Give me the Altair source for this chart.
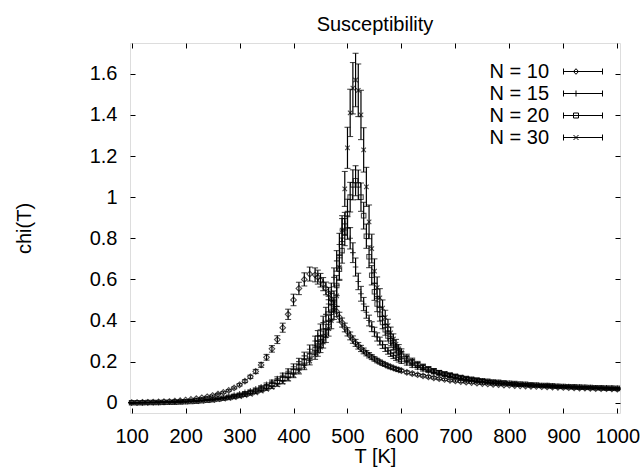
import altair as alt
import pandas as pd

# Temperatures (K)
T = [100, 110, 120, 130, 140, 150, 160, 170, 180, 190,
     200, 210, 220, 230, 240, 250, 260, 270, 280, 290,
     300, 310, 320, 330, 340, 350, 360, 370, 380, 390,
     400, 410, 420, 430, 440,
     445, 450, 455, 460, 465, 470, 475, 480, 485, 490,
     495, 500, 505, 510, 515, 520, 525, 530, 535, 540,
     545, 550, 555, 560, 565, 570, 575, 580, 585, 590,
     595, 600,
     610, 620, 630, 640, 650, 660, 670, 680, 690, 700,
     710, 720, 730, 740, 750, 760, 770, 780, 790, 800,
     810, 820, 830, 840, 850, 860, 870, 880, 890, 900,
     910, 920, 930, 940, 950, 960, 970, 980, 990, 1000]

series_names = ["N = 10", "N = 15", "N = 20", "N = 30"]

chi_n10 = [0.001, 0.001, 0.002, 0.002, 0.003, 0.004, 0.005, 0.006, 0.008, 0.010,
           0.013, 0.016, 0.020, 0.024, 0.029, 0.035, 0.042, 0.050, 0.060, 0.072,
           0.087, 0.105, 0.126, 0.152, 0.184, 0.221, 0.262, 0.307, 0.365, 0.430,
           0.500, 0.556, 0.600, 0.626, 0.622,
           0.611, 0.596, 0.577, 0.556, 0.531, 0.503, 0.473, 0.444, 0.416, 0.390,
           0.366, 0.345, 0.325, 0.307, 0.291, 0.277, 0.264, 0.252, 0.241, 0.231,
           0.222, 0.213, 0.205, 0.198, 0.191, 0.185, 0.179, 0.174, 0.169, 0.164,
           0.160, 0.156,
           0.148, 0.142, 0.136, 0.131, 0.126, 0.121, 0.117, 0.113, 0.109, 0.106,
           0.103, 0.100, 0.098, 0.095, 0.093, 0.091, 0.089, 0.088, 0.086, 0.085,
           0.083, 0.082, 0.081, 0.080, 0.079, 0.078, 0.077, 0.076, 0.075, 0.074,
           0.073, 0.072, 0.071, 0.071, 0.070, 0.069, 0.068, 0.068, 0.067, 0.066]

chi_n15 = [0.000, 0.000, 0.001, 0.001, 0.001, 0.002, 0.002, 0.003, 0.004, 0.005,
           0.006, 0.008, 0.010, 0.012, 0.015, 0.018, 0.022, 0.026, 0.031, 0.037,
           0.043, 0.050, 0.058, 0.067, 0.077, 0.089, 0.102, 0.117, 0.134, 0.153,
           0.175, 0.200, 0.228, 0.260, 0.300,
           0.325, 0.355, 0.390, 0.430, 0.480, 0.540, 0.610, 0.690, 0.770, 0.840,
           0.870, 0.850, 0.800, 0.730, 0.660, 0.590, 0.530, 0.480, 0.440, 0.400,
           0.370, 0.345, 0.320, 0.300, 0.282, 0.266, 0.252, 0.240, 0.229, 0.219,
           0.210, 0.202,
           0.193, 0.182, 0.172, 0.163, 0.155, 0.148, 0.141, 0.135, 0.130, 0.125,
           0.120, 0.116, 0.112, 0.109, 0.106, 0.103, 0.100, 0.098, 0.096, 0.094,
           0.092, 0.090, 0.088, 0.087, 0.085, 0.084, 0.083, 0.081, 0.080, 0.079,
           0.078, 0.077, 0.076, 0.075, 0.074, 0.073, 0.072, 0.072, 0.071, 0.070]

chi_n20 = [0.000, 0.000, 0.000, 0.001, 0.001, 0.001, 0.002, 0.002, 0.003, 0.004,
           0.005, 0.006, 0.008, 0.010, 0.012, 0.015, 0.018, 0.022, 0.026, 0.031,
           0.036, 0.042, 0.049, 0.057, 0.066, 0.076, 0.088, 0.101, 0.116, 0.133,
           0.152, 0.174, 0.198, 0.226, 0.258,
           0.276, 0.296, 0.320, 0.350, 0.390, 0.440, 0.500, 0.570, 0.650, 0.740,
           0.830, 0.920, 1.000, 1.060, 1.080, 1.060, 1.000, 0.910, 0.810, 0.710,
           0.620, 0.540, 0.480, 0.430, 0.390, 0.355, 0.325, 0.300, 0.280, 0.262,
           0.246, 0.232,
           0.212, 0.196, 0.183, 0.172, 0.162, 0.154, 0.146, 0.140, 0.134, 0.128,
           0.123, 0.118, 0.114, 0.110, 0.107, 0.104, 0.101, 0.099, 0.097, 0.095,
           0.093, 0.091, 0.089, 0.087, 0.086, 0.084, 0.083, 0.082, 0.080, 0.079,
           0.078, 0.077, 0.076, 0.075, 0.074, 0.073, 0.072, 0.071, 0.071, 0.070]

chi_n30 = [0.000, 0.000, 0.000, 0.000, 0.001, 0.001, 0.001, 0.002, 0.002, 0.003,
           0.004, 0.005, 0.006, 0.008, 0.010, 0.012, 0.015, 0.018, 0.021, 0.025,
           0.030, 0.035, 0.041, 0.048, 0.056, 0.065, 0.075, 0.087, 0.100, 0.116,
           0.134, 0.154, 0.177, 0.203, 0.233,
           0.250, 0.270, 0.295, 0.325, 0.360, 0.400, 0.450, 0.520, 0.660, 0.840,
           1.040, 1.240, 1.410, 1.530, 1.570, 1.520, 1.400, 1.230, 1.050, 0.880,
           0.750, 0.640, 0.560, 0.510, 0.460, 0.415, 0.375, 0.340, 0.310, 0.285,
           0.262, 0.243,
           0.220, 0.203, 0.188, 0.176, 0.165, 0.156, 0.148, 0.141, 0.135, 0.129,
           0.124, 0.119, 0.115, 0.111, 0.107, 0.104, 0.101, 0.099, 0.096, 0.094,
           0.092, 0.090, 0.089, 0.087, 0.086, 0.084, 0.083, 0.081, 0.080, 0.079,
           0.078, 0.077, 0.076, 0.075, 0.074, 0.073, 0.072, 0.071, 0.070, 0.070]

err_n10 = [0.000, 0.000, 0.000, 0.000, 0.000, 0.001, 0.001, 0.001, 0.001, 0.001,
           0.001, 0.001, 0.002, 0.002, 0.002, 0.003, 0.003, 0.004, 0.004, 0.005,
           0.006, 0.007, 0.008, 0.010, 0.012, 0.014, 0.016, 0.019, 0.022, 0.025,
           0.028, 0.030, 0.032, 0.034, 0.034,
           0.034, 0.033, 0.032, 0.031, 0.030, 0.028, 0.027, 0.025, 0.024, 0.022,
           0.021, 0.020, 0.019, 0.018, 0.017, 0.016, 0.015, 0.014, 0.013, 0.013,
           0.012, 0.011, 0.011, 0.010, 0.010, 0.009, 0.009, 0.009, 0.008, 0.008,
           0.008, 0.007,
           0.007, 0.007, 0.006, 0.006, 0.006, 0.006, 0.005, 0.005, 0.005, 0.005,
           0.005, 0.004, 0.004, 0.004, 0.004, 0.004, 0.004, 0.004, 0.004, 0.003,
           0.003, 0.003, 0.003, 0.003, 0.003, 0.003, 0.003, 0.003, 0.003, 0.003,
           0.003, 0.003, 0.003, 0.003, 0.003, 0.003, 0.003, 0.003, 0.003, 0.003]

err_n15 = [0.000, 0.000, 0.000, 0.000, 0.000, 0.000, 0.000, 0.000, 0.000, 0.000,
           0.001, 0.001, 0.001, 0.001, 0.001, 0.001, 0.002, 0.002, 0.002, 0.003,
           0.003, 0.004, 0.004, 0.005, 0.006, 0.007, 0.008, 0.009, 0.010, 0.012,
           0.014, 0.016, 0.018, 0.021, 0.024,
           0.026, 0.028, 0.031, 0.034, 0.038, 0.042, 0.046, 0.050, 0.054, 0.056,
           0.056, 0.055, 0.052, 0.048, 0.044, 0.040, 0.036, 0.032, 0.029, 0.026,
           0.024, 0.022, 0.020, 0.019, 0.018, 0.017, 0.016, 0.015, 0.014, 0.013,
           0.012, 0.011,
           0.010, 0.010, 0.009, 0.009, 0.008, 0.008, 0.007, 0.007, 0.007, 0.006,
           0.006, 0.006, 0.005, 0.005, 0.005, 0.005, 0.005, 0.004, 0.004, 0.004,
           0.004, 0.004, 0.004, 0.004, 0.004, 0.004, 0.004, 0.004, 0.004, 0.004,
           0.003, 0.003, 0.003, 0.003, 0.003, 0.003, 0.003, 0.003, 0.003, 0.003]

err_n20 = [0.000, 0.000, 0.000, 0.000, 0.000, 0.000, 0.000, 0.000, 0.000, 0.000,
           0.001, 0.001, 0.001, 0.001, 0.001, 0.001, 0.001, 0.002, 0.002, 0.002,
           0.003, 0.003, 0.004, 0.004, 0.005, 0.006, 0.007, 0.008, 0.009, 0.011,
           0.013, 0.015, 0.017, 0.020, 0.023,
           0.025, 0.027, 0.029, 0.032, 0.035, 0.039, 0.044, 0.049, 0.055, 0.061,
           0.066, 0.070, 0.072, 0.073, 0.073, 0.072, 0.069, 0.065, 0.059, 0.053,
           0.047, 0.042, 0.037, 0.033, 0.030, 0.027, 0.025, 0.023, 0.021, 0.019,
           0.018, 0.017,
           0.015, 0.013, 0.012, 0.011, 0.010, 0.009, 0.009, 0.008, 0.008, 0.007,
           0.007, 0.006, 0.006, 0.006, 0.005, 0.005, 0.005, 0.005, 0.004, 0.004,
           0.004, 0.004, 0.004, 0.004, 0.004, 0.004, 0.004, 0.004, 0.004, 0.004,
           0.003, 0.003, 0.003, 0.003, 0.003, 0.003, 0.003, 0.003, 0.003, 0.003]

err_n30 = [0.000, 0.000, 0.000, 0.000, 0.000, 0.000, 0.000, 0.000, 0.000, 0.000,
           0.001, 0.001, 0.001, 0.001, 0.001, 0.001, 0.001, 0.001, 0.002, 0.002,
           0.002, 0.003, 0.003, 0.004, 0.004, 0.005, 0.006, 0.007, 0.008, 0.010,
           0.012, 0.014, 0.016, 0.019, 0.022,
           0.024, 0.026, 0.029, 0.032, 0.036, 0.040, 0.045, 0.052, 0.060, 0.070,
           0.085, 0.100, 0.115, 0.125, 0.130, 0.128, 0.120, 0.108, 0.095, 0.082,
           0.070, 0.060, 0.052, 0.045, 0.040, 0.035, 0.031, 0.028, 0.025, 0.023,
           0.021, 0.019,
           0.016, 0.014, 0.013, 0.012, 0.011, 0.010, 0.009, 0.009, 0.008, 0.008,
           0.007, 0.007, 0.006, 0.006, 0.006, 0.005, 0.005, 0.005, 0.005, 0.004,
           0.004, 0.004, 0.004, 0.004, 0.004, 0.004, 0.004, 0.004, 0.004, 0.004,
           0.003, 0.003, 0.003, 0.003, 0.003, 0.003, 0.003, 0.003, 0.003, 0.003]

x_ticks = [100, 200, 300, 400, 500, 600, 700, 800, 900, 1000]
y_ticks = [0, 0.2, 0.4, 0.6, 0.8, 1, 1.2, 1.4, 1.6]

chis = [chi_n10, chi_n15, chi_n20, chi_n30]
errs = [err_n10, err_n15, err_n20, err_n30]
for c, e in zip(chis, errs):
    assert len(c) == len(T) and len(e) == len(T), (len(c), len(e), len(T))

rows = []
for name, c, e in zip(series_names, chis, errs):
    for t, v, s in zip(T, c, e):
        rows.append({"T": t, "chi": v, "lo": v - s, "hi": v + s, "series": name})
df = pd.DataFrame(rows)
legend_df = pd.DataFrame({"series": series_names})

FONT = "Liberation Sans"

marker_paths = [
    "M0,-1L1,0L0,1L-1,0Z",
    "M-1,0L1,0M0,-1L0,1",
    "M-0.8,-0.8L0.8,-0.8L0.8,0.8L-0.8,0.8Z",
    "M-0.8,-0.8L0.8,0.8M-0.8,0.8L0.8,-0.8",
]
bar = "M-1.95,0L1.95,0M-1.95,-0.3L-1.95,0.3M1.95,-0.3L1.95,0.3"
legend_paths = [
    bar + "M-0.7,-0.28L-0.45,0L-0.7,0.28L-0.95,0Z",
    bar + "M-0.7,-0.3L-0.7,0.3",
    bar + "M-0.95,-0.25L-0.45,-0.25L-0.45,0.25L-0.95,0.25Z",
    bar + "M-0.95,-0.25L-0.45,0.25M-0.95,0.25L-0.45,-0.25",
]

xscale = alt.Scale(domain=[97, 1005], nice=False, zero=False)
yscale = alt.Scale(domain=[-0.05, 1.75], nice=False, zero=False)

common_axis = dict(offset=-5, tickSize=5, tickColor="black", tickWidth=1,
                   domain=False, grid=False, labelFont=FONT, labelFontSize=20,
                   labelColor="black", titleFont=FONT, titleFontSize=20,
                   titleFontWeight="normal", titleColor="black")

x_bottom = alt.Axis(values=x_ticks, orient="bottom", labelPadding=13, labelFlush=False,
                    format="d", labelOverlap=False, title="T [K]", titlePadding=0,
                    **common_axis)
y_left = alt.Axis(values=y_ticks, orient="left", labelPadding=13, format="~g",
                  labelOverlap=False, title="chi(T)", titlePadding=55, **common_axis)
x_top = alt.Axis(values=x_ticks, orient="top", labels=False, title=None, **common_axis)
y_right = alt.Axis(values=y_ticks, orient="right", labels=False, title=None, **common_axis)

base = alt.Chart(df)

points = base.mark_point(filled=False, size=32, strokeWidth=1.1, color="black").encode(
    x=alt.X("T:Q", scale=xscale, axis=x_bottom),
    y=alt.Y("chi:Q", scale=yscale, axis=y_left),
    shape=alt.Shape("series:N", scale=alt.Scale(domain=series_names, range=marker_paths),
                    legend=None),
)

bars = base.mark_rule(color="black", strokeWidth=1.2).encode(
    x=alt.X("T:Q", scale=xscale, axis=x_top),
    y=alt.Y("lo:Q", scale=yscale, axis=y_right),
    y2="hi:Q",
)

caps_lo = base.mark_tick(orient="horizontal", color="black", size=6, thickness=1.1).encode(
    x=alt.X("T:Q", scale=xscale, axis=None),
    y=alt.Y("lo:Q", scale=yscale, axis=None),
)
caps_hi = base.mark_tick(orient="horizontal", color="black", size=6, thickness=1.1).encode(
    x=alt.X("T:Q", scale=xscale, axis=None),
    y=alt.Y("hi:Q", scale=yscale, axis=None),
)

legend_layer = alt.Chart(legend_df).mark_point(filled=False, opacity=0, color="black").encode(
    shape=alt.Shape(
        "series:N",
        scale=alt.Scale(domain=series_names, range=legend_paths),
        legend=alt.Legend(
            title=None, orient="none", legendX=442.5, legendY=18,
            labelAlign="right", labelOffset={"expr": "-44.5"}, labelFont=FONT,
            labelFontSize=20, labelColor="black", symbolSize=400,
            symbolStrokeColor="black", symbolStrokeWidth=1,
            symbolFillColor="transparent", symbolOpacity=1,
            rowPadding=1, padding=0,
        ),
    )
)

chart = (
    alt.layer(bars, caps_lo, caps_hi, points, legend_layer)
    .resolve_scale(shape="independent")
    .resolve_axis(x="independent", y="independent")
    .properties(
        width=490, height=370,
        autosize=alt.AutoSizeParams(type="none"),
        padding={"left": 130, "top": 43, "right": 24, "bottom": 55},
        title=alt.TitleParams("Susceptibility", font=FONT, fontSize=20,
                              fontWeight="normal", color="black", anchor="middle",
                              baseline="alphabetic", offset=15, dy=23),
    )
    .configure_view(stroke="black", strokeWidth=1.5)
    .configure(background="white")
)

chart.save("out.html", embed_options={"renderer": "svg", "actions": False})
